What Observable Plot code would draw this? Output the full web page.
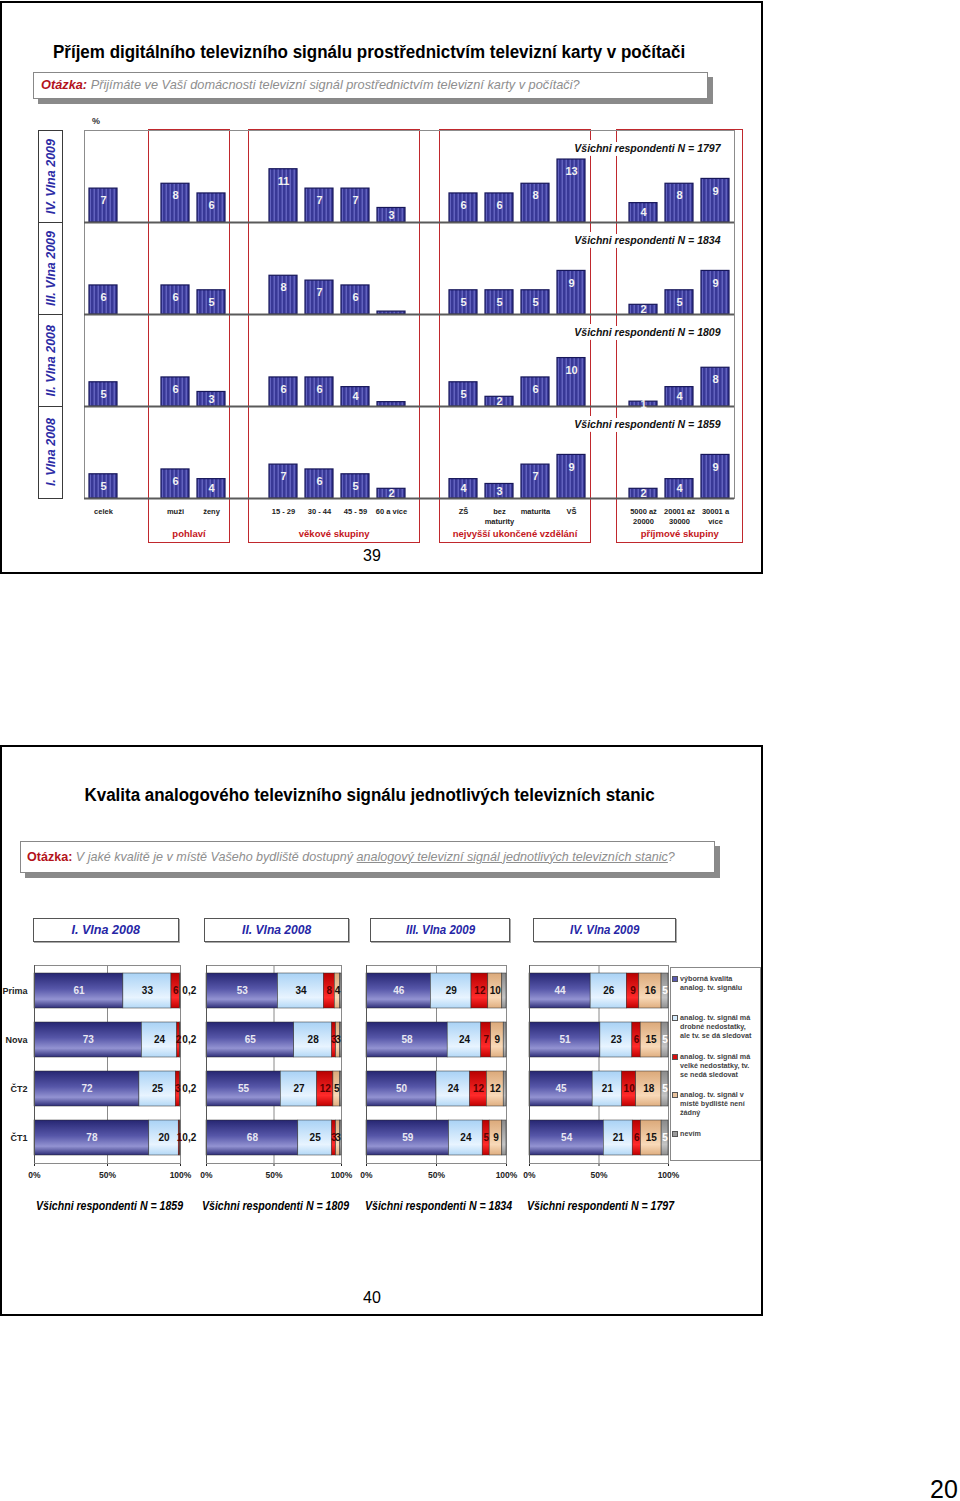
<!DOCTYPE html>
<html><head><meta charset="utf-8">
<script src="https://cdn.jsdelivr.net/npm/d3@7"></script>
<script src="https://cdn.jsdelivr.net/npm/@observablehq/plot@0.6"></script>
<style>
html,body{margin:0;padding:0;background:#fff;}
#page{position:relative;width:960px;height:1501px;overflow:hidden;background:#fff;}
#page svg{position:absolute;}
</style></head>
<body>
<svg width="0" height="0" style="position:absolute;left:0;top:0">
<defs>
<pattern id="stripes" patternUnits="userSpaceOnUse" width="4" height="10">
<rect width="4" height="10" fill="#383896"/><rect x="1.5" width="1.5" height="10" fill="#6262be"/>
</pattern>
<linearGradient id="gBlue" x1="0" y1="0" x2="0" y2="1">
<stop offset="0" stop-color="#262672"/><stop offset="0.45" stop-color="#5656a8"/><stop offset="0.75" stop-color="#9393d2"/><stop offset="1" stop-color="#2e2e78"/>
</linearGradient>
<linearGradient id="gLight" x1="0" y1="0" x2="0" y2="1">
<stop offset="0" stop-color="#a9d2f5"/><stop offset="0.7" stop-color="#e8f4ff"/><stop offset="1" stop-color="#b3d8f6"/>
</linearGradient>
<linearGradient id="gRed" x1="0" y1="0" x2="0" y2="1">
<stop offset="0" stop-color="#b80000"/><stop offset="0.7" stop-color="#ff2a2a"/><stop offset="1" stop-color="#c00000"/>
</linearGradient>
<linearGradient id="gTan" x1="0" y1="0" x2="0" y2="1">
<stop offset="0" stop-color="#dba97a"/><stop offset="0.7" stop-color="#f8d9b8"/><stop offset="1" stop-color="#dfae80"/>
</linearGradient>
<linearGradient id="gGray" x1="0" y1="0" x2="0" y2="1">
<stop offset="0" stop-color="#8a8a8a"/><stop offset="0.7" stop-color="#c4c4c4"/><stop offset="1" stop-color="#909090"/>
</linearGradient>
</defs>
</svg>
<div id="page"></div>
<script>
// ---------------- DATA: top chart ----------------
const topWaves = ["IV. Vlna 2009", "III. Vlna 2009", "II. Vlna 2008", "I. Vlna 2008"];
const topNotes = ["Všichni respondenti N = 1797", "Všichni respondenti N = 1834", "Všichni respondenti N = 1809", "Všichni respondenti N = 1859"];
const topCategories = ["celek", "", "muži", "ženy", "", "15 - 29", "30 - 44", "45 - 59", "60 a více", "",
  "ZŠ", "bez\nmaturity", "maturita", "VŠ", "", "5000 až\n20000", "20001 až\n30000", "30001 a\nvíce"];
const valsIV  = [7, null, 8, 6, null, 11, 7, 7, 3,   null, 6, 6, 8, 13, null, 4, 8, 9];
const valsIII = [6, null, 6, 5, null, 8,  7, 6, 0.6, null, 5, 5, 5, 9,  null, 2, 5, 9];
const valsII  = [5, null, 6, 3, null, 6,  6, 4, 0.9, null, 5, 2, 6, 10, null, 1, 4, 8];
const valsI   = [5, null, 6, 4, null, 7,  6, 5, 2,   null, 4, 3, 7, 9,  null, 2, 4, 9];
const groupNames = ["pohlaví", "věkové skupiny", "nejvyšší ukončené vzdělání", "příjmové skupiny"];
const groupSlots = [[2, 3], [5, 8], [10, 13], [15, 17]];

// ---------------- DATA: bottom chart ----------------
const waves = ["I. Vlna 2008", "II. Vlna 2008", "III. Vlna 2009", "IV. Vlna 2009"];
const waveNotes = ["Všichni respondenti N = 1859", "Všichni respondenti N = 1809", "Všichni respondenti N = 1834", "Všichni respondenti N = 1797"];
const stations = ["Prima", "Nova", "ČT2", "ČT1"];
const qualityCats = ["výborná kvalita\nanalog. tv. signálu", "analog. tv. signál má\ndrobné nedostatky,\nale tv. se dá sledovat",
  "analog. tv. signál má\nvelké nedostatky, tv.\nse nedá sledovat", "analog. tv. signál v\nmístě bydliště není\nžádný", "nevím"];
// rows = stations (Prima, Nova, ČT2, ČT1); columns = quality categories
const wave1 = [[61, 33, 6, 0.2, 0], [73, 24, 2, 0.2, 0], [72, 25, 3, 0.2, 0], [78, 20, 1, 0.2, 0]];
const wave2 = [[53, 34, 8, 4, 1], [65, 28, 3, 3, 1], [55, 27, 12, 5, 1], [68, 25, 3, 3, 1]];
const wave3 = [[46, 29, 12, 10, 3], [58, 24, 7, 9, 2], [50, 24, 12, 12, 2], [59, 24, 5, 9, 3]];
const wave4 = [[44, 26, 9, 16, 5], [51, 23, 6, 15, 5], [45, 21, 10, 18, 5], [54, 21, 6, 15, 5]];

// ---------------- styles / layout ----------------
const SANS = '"Liberation Sans", Arial, Helvetica, sans-serif';
const NARROW = '"Liberation Sans Narrow", "Arial Narrow", "Liberation Sans", Arial, sans-serif';
const qualityFills = ["url(#gBlue)", "url(#gLight)", "url(#gRed)", "url(#gTan)", "url(#gGray)"];
const qualitySwatch = ["#5a5ab0", "#d6ecfd", "#d81010", "#e9c29c", "#9a9a9a"];
const qualityLabelColors = ["#e8e8f2", "#111", "#5a0000", "#111", "#fff"];
const panelSpans = [[34, 180], [206, 341], [366, 506], [529, 668]];
const waveBoxes = [[33, 146], [204, 145], [370, 140], [533, 143]];
const groupPad = [[0.36, 0.13], [0.57, 0.42], [0.28, 0.18], [0.35, 0.39]];

const page = document.getElementById("page");
function box(left, top, width, height, css) {
  const d = document.createElement("div");
  d.style.cssText = `position:absolute;left:${left}px;top:${top}px;width:${width}px;height:${height}px;box-sizing:border-box;${css || ""}`;
  page.appendChild(d);
  return d;
}
function label(html, cx, cy, o) {
  const s = document.createElement("div");
  s.innerHTML = html;
  s.style.cssText = `position:absolute;left:0;top:0;white-space:pre;line-height:1.15;font-size:${o.size}px;font-weight:${o.weight || "normal"};font-style:${o.italic ? "italic" : "normal"};color:${o.color || "#000"};font-family:${o.family || SANS};`;
  page.appendChild(s);
  const w = s.offsetWidth, h = s.offsetHeight;
  const left = o.anchor === "middle" ? cx - w / 2 : cx;
  s.style.left = left + "px";
  s.style.top = (cy - h / 2) + "px";
  if (o.width) {
    s.style.transformOrigin = o.anchor === "middle" ? "50% 50%" : "0 50%";
    s.style.transform = `scaleX(${o.width / w})`;
  }
  return s;
}

// ================= PAGE 39 =================
box(0, 1, 763, 573, "border:2.5px solid #000");
label("Příjem digitálního televizního signálu prostřednictvím televizní karty v počítači", 369, 52,
  {size: 18, weight: "bold", family: NARROW, anchor: "middle", width: 632});
box(33, 72, 675, 27, "border:1px solid #888;background:#fff;box-shadow:5px 5px 0 #8a8a8a");
label('<span style="color:#b3121b;font-weight:bold">Otázka:</span> Přijímáte ve Vaší domácnosti televizní signál prostřednictvím televizní karty v počítači?',
  41, 85, {size: 13, italic: true, color: "#8e8e8e", family: NARROW, width: 539});
label("%", 92, 121, {size: 9, weight: "bold", color: "#333"});

const topData = [];
[valsIV, valsIII, valsII, valsI].forEach((vals, wi) => vals.forEach((v, i) => {
  if (v != null) topData.push({wave: topWaves[wi], slot: i, v});
}));

const topChart = Plot.plot({
  width: 770, height: 560,
  marginLeft: 84, marginRight: 36, marginTop: 129, marginBottom: 61,
  style: {background: "transparent", fontFamily: SANS, fontSize: "7.5px", fontWeight: "bold", color: "#222", overflow: "visible"},
  x: {type: "band", domain: d3.range(topCategories.length), paddingInner: 0.22, paddingOuter: 0.11, label: null, axis: null},
  y: {domain: [0, 19], axis: null},
  fy: {domain: topWaves, padding: 0, axis: null},
  marks: [
    Plot.frame({stroke: "#8c8c8c"}),
    Plot.barY(topData, {x: "slot", y: "v", fy: "wave", fill: "url(#stripes)", stroke: "#17175a", strokeWidth: 1.2}),
    Plot.ruleY([0], {stroke: "#5a5a5a", strokeWidth: 2}),
    Plot.text(topData.filter(d => d.v >= 1), {x: "slot", y: d => Math.max(d.v - 2.5, d.v / 2), fy: "wave",
      text: d => String(Math.round(d.v)), fill: "#f2f2f2", fontSize: 11, fontWeight: "bold"}),
    Plot.text(topNotes, {fy: topWaves, frameAnchor: "top-right", dx: -14, dy: 18, lineAnchor: "middle",
      text: d => d, fontSize: 10.5, fontStyle: "italic", fontWeight: "bold", fill: "#111",
      stroke: "white", strokeWidth: 8, paintOrder: "stroke"}),
    Plot.axisX({tickFormat: i => topCategories[i], tickSize: 0, tickPadding: 9, lineHeight: 1.3, fontSize: 7.5, fontWeight: "bold", label: null})
  ]
});

// red group boxes (behind chart)
const xs = topChart.scale("x");
const step = xs.step, bw = xs.bandwidth;
groupSlots.forEach(([a, b], gi) => {
  const left = xs.apply(a) - groupPad[gi][0] * step;
  const right = xs.apply(b) + bw + groupPad[gi][1] * step;
  box(left, 129, right - left, 414, "border:1.3px solid #c0282d");
  label(groupNames[gi], (left + right) / 2, 534, {size: 9.5, weight: "bold", color: "#c4161c", anchor: "middle"});
});
topChart.style.left = "0px";
topChart.style.top = "0px";
page.appendChild(topChart);

// row labels (rotated)
const fys = topChart.scale("fy");
topWaves.forEach(w => {
  const t = fys.apply(w), h = fys.bandwidth;
  const b = box(38, t, 25, h + 1, "border:1.5px solid #3a3a3a;background:#fff;display:flex;align-items:center;justify-content:center");
  const s = document.createElement("span");
  s.textContent = w;
  s.style.cssText = `writing-mode:vertical-rl;transform:rotate(180deg);font:italic bold 12.5px ${SANS};color:#2b2ba5;white-space:nowrap`;
  b.appendChild(s);
});
label("39", 372, 556, {size: 16, anchor: "middle"});

// ================= PAGE 40 =================
box(0, 745, 763, 571, "border:2.5px solid #000");
label("Kvalita analogového televizního signálu jednotlivých televizních stanic", 369, 795,
  {size: 18, weight: "bold", family: NARROW, anchor: "middle", width: 570});
box(20, 841, 695, 32, "border:1px solid #888;background:#fff;box-shadow:5px 5px 0 #8a8a8a");
label('<span style="color:#b3121b;font-weight:bold;font-style:normal">Otázka:</span> V jaké kvalitě je v místě Vašeho bydliště dostupný <span style="text-decoration:underline">analogový televizní signál jednotlivých televizních stanic</span>?',
  27, 857, {size: 13, italic: true, color: "#8e8e8e", family: NARROW, width: 648});

waves.forEach((w, i) => {
  const [l, wd] = waveBoxes[i];
  box(l, 918, wd, 24, "border:1.5px solid #555;background:#fff;box-shadow:1px 1px 0 #aaa");
  label(w, l + wd / 2, 930, {size: 13.5, weight: "bold", italic: true, color: "#2626a6", family: NARROW, anchor: "middle", width: 69});
});

const fmt = v => String(v).replace(".", ",");
const showLabel = d => d.v >= 1 && !(d.cat === 4 && d.v < 4);

function qualityPanel(values, idx) {
  const [x0, x1] = panelSpans[idx];
  const svgLeft = idx === 0 ? 0 : x0 - 7;
  const ml = x0 - svgLeft, mr = 20;
  const width = x1 - svgLeft + mr;
  const rows = [];
  values.forEach((arr, si) => arr.forEach((v, ci) => rows.push({station: stations[si], cat: ci, v})));
  const st = extra => Plot.stackX({offset: "normalize", x: "v", y: "station", z: "cat", ...extra});
  const marks = [
    Plot.frame({stroke: "#8a8a8a"}),
    Plot.ruleX([0.5], {stroke: "#8a8a8a"}),
    Plot.barX(rows, st({fill: "cat", stroke: "#2b2b2b", strokeWidth: 0.5}))
  ];
  qualityLabelColors.forEach((c, ci) => marks.push(
    Plot.text(rows, st({text: d => d.cat === ci && showLabel(d) ? fmt(d.v) : "", fill: c, fontSize: 10}))));
  marks.push(Plot.text(rows, st({text: d => d.v > 0 && d.v < 1 && d.cat !== 4 ? fmt(d.v) : "",
    textAnchor: "start", dx: 2, fill: "#111", fontSize: 10})));
  marks.push(Plot.ruleX([0], {stroke: "#555"}));
  const chart = Plot.plot({
    width, height: 225, marginLeft: ml, marginRight: mr, marginTop: 5, marginBottom: 22,
    style: {background: "transparent", fontFamily: SANS, fontSize: "8.5px", fontWeight: "bold", color: "#222", overflow: "visible"},
    x: {domain: [0, 1], ticks: 2, tickFormat: d => Math.round(d * 100) + "%", tickSize: 3, tickPadding: 5, label: null},
    y: {domain: stations, paddingInner: 0.29, paddingOuter: 0.145, axis: idx === 0 ? "left" : null,
        tickSize: 0, tickPadding: 7, label: null},
    color: {type: "ordinal", domain: d3.range(qualityCats.length), range: qualityFills},
    marks
  });
  chart.style.left = svgLeft + "px";
  chart.style.top = "960px";
  if (idx === 0) chart.querySelectorAll('[aria-label="y-axis tick label"] text').forEach(t => t.style.fontSize = "9px");
  page.appendChild(chart);
  label(waveNotes[idx], (x0 + x1) / 2 + 2, 1207, {size: 12, weight: "bold", italic: true, family: NARROW, anchor: "middle", width: 147});
}
[wave1, wave2, wave3, wave4].forEach((vals, i) => qualityPanel(vals, i));

// legend
box(670, 967, 91, 194, "border:1px solid #888;background:#fff");
qualityCats.forEach((name, i) => {
  const top = 974 + i * 38.8;
  box(672, top + 2, 6, 6, `background:${qualitySwatch[i]};border:1px solid #555`);
  const t = document.createElement("div");
  t.textContent = name;
  t.style.cssText = `position:absolute;left:680px;top:${top}px;white-space:pre;font:bold 7.2px/9px ${SANS};color:#444`;
  page.appendChild(t);
});

label("40", 372, 1298, {size: 16, anchor: "middle"});
label("20", 944, 1489, {size: 25, anchor: "middle"});
</script>
</body></html>
